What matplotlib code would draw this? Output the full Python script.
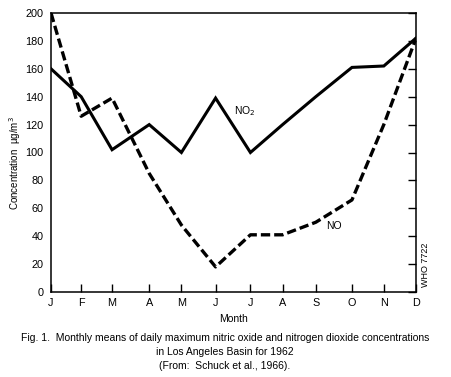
import matplotlib
matplotlib.use("Agg")
import matplotlib.pyplot as plt

months = ["J", "F", "M", "A", "M", "J", "J", "A", "S", "O", "N", "D"]
month_pos = [0, 0.91, 1.84, 2.96, 3.93, 4.96, 6.01, 6.98, 7.98, 9.07, 10.03, 11]
no2 = [160, 140, 102, 120, 100, 139, 100, 120, 140, 161, 162, 182]
no = [200, 126, 139, 85, 48, 18, 41, 41, 50, 66, 120, 182]

plt.rcParams['font.family'] = ['Liberation Sans', 'DejaVu Sans']
fig = plt.figure(figsize=(4.51, 3.77), dpi=100)
ax = fig.add_axes([51/451, (377-292)/377, (416-51)/451, (292-13)/377])

ax.plot(month_pos, no2, color='black', lw=2.2, solid_joinstyle='miter')
ax.plot(month_pos, no, color='black', lw=2.4, dashes=(2.8, 1.2))

ax.set_xlim(month_pos[0], month_pos[-1])
ax.set_ylim(0, 200)
ax.set_xticks(month_pos)
ax.set_xticklabels(months)
ax.set_yticks(range(0, 201, 20))
ax.tick_params(axis='x', direction='in', length=6, width=1, labelsize=7.8, pad=4)
ax.tick_params(axis='y', left=False, right=True, labelleft=True, direction='in',
               length=6, width=1, labelsize=7.8, pad=5.5)
for s in ax.spines.values():
    s.set_linewidth(1.1)

ax.set_xlabel("Month", fontsize=7.5, labelpad=5)
fig.text(15/451, 1 - 163/377, "Concentration  µg/m$^3$", rotation=90, fontsize=7,
         ha='center', va='center')

ax.text(5.5, 130, "NO$_2$", fontsize=7.5, ha='left', va='center')
ax.text(8.3, 47, "NO", fontsize=7.5, ha='left', va='center')
fig.text(425/451, 1 - 265/377, "WHO 7722", rotation=90, fontsize=6.5, ha='center', va='center')

fig.text(225/451, 1 - 338/377, "Fig. 1.  Monthly means of daily maximum nitric oxide and nitrogen dioxide concentrations",
         fontsize=7.5, ha='center', va='center')
fig.text(225/451, 1 - 352/377, "in Los Angeles Basin for 1962", fontsize=7.5, ha='center', va='center')
fig.text(225/451, 1 - 366/377, "(From:  Schuck et al., 1966).", fontsize=7.5, ha='center', va='center')

fig.savefig("out.png", dpi=100)
